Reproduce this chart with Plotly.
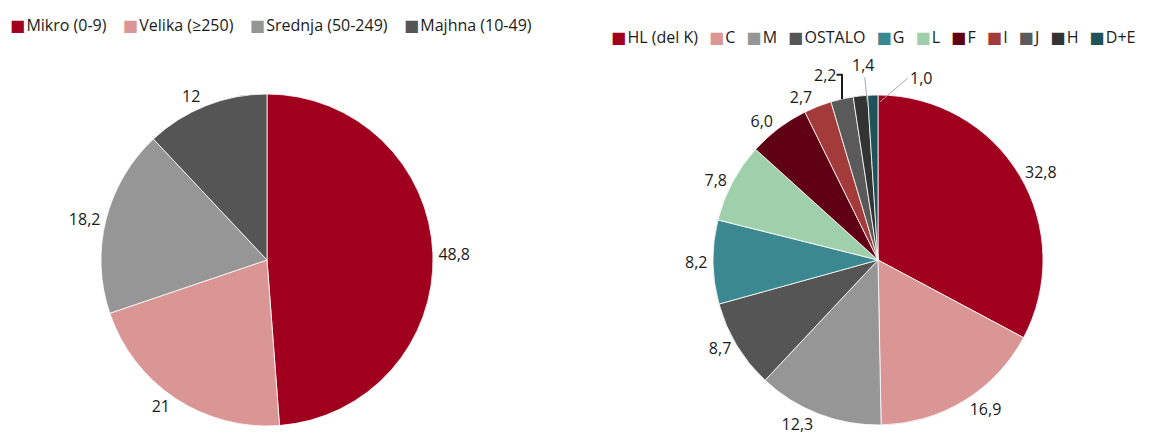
import math
import plotly.graph_objects as go

size_labels = ["Mikro (0-9)", "Velika (≥250)", "Srednja (50-249)", "Majhna (10-49)"]
size_values = [48.8, 21, 18.2, 12]
size_colors = ["#A0001E", "#D99694", "#969696", "#555555"]

sector_labels = ["HL (del K)", "C", "M", "OSTALO", "G", "L", "F", "I", "J", "H", "D+E"]
sector_values = [32.8, 16.9, 12.3, 8.7, 8.2, 7.8, 6.0, 2.7, 2.2, 1.4, 1.0]
sector_colors = ["#A0001E", "#D99694", "#969696", "#555555", "#3B8890", "#A0CFAB",
                 "#600014", "#A33B3B", "#5A5A5A", "#333333", "#1F535A"]

W, H = 1150, 437
FONT = "Open Sans"
TXT = "#1a1a1a"

def dom(cx, cy, r):
    return dict(x=[(cx - r) / W, (cx + r) / W], y=[(H - cy - r) / H, (H - cy + r) / H])

L_CX, L_CY, L_R = 259, 252, 166
R_CX, R_CY, R_R = 870, 252, 165
# rendered pie centre (plotly shifts the drawn pie slightly relative to the domain)
R_DRAW_CX, R_DRAW_CY = 877, 259

fig = go.Figure()
fig.add_trace(go.Pie(
    labels=size_labels, values=size_values,
    text=[f"{v:g}".replace(".", ",") for v in size_values],
    textinfo="text", textposition="outside",
    sort=False, direction="clockwise", rotation=0,
    marker=dict(colors=size_colors, line=dict(color="white", width=0.8)),
    domain=dom(L_CX, L_CY, L_R),
    textfont=dict(size=16, color=TXT, family=FONT),
    showlegend=False, hoverinfo="label+value",
))

n_leader = 2  # the smallest slices get labels with leader lines
sector_text = [f"{v:.1f}".replace(".", ",") for v in sector_values]
sector_pos = ["outside"] * (len(sector_values) - n_leader) + ["none"] * n_leader
fig.add_trace(go.Pie(
    labels=sector_labels, values=sector_values,
    text=sector_text,
    textinfo="text", textposition=sector_pos,
    sort=False, direction="clockwise", rotation=0,
    marker=dict(colors=sector_colors, line=dict(color="white", width=0.8)),
    domain=dom(R_CX, R_CY, R_R),
    textfont=dict(size=16, color=TXT, family=FONT),
    showlegend=False, hoverinfo="label+value",
))

total = sum(sector_values)
leader_style = {  # index -> (ax, ay, xanchor)
    len(sector_values) - 2: (-4, -38, "center"),
    len(sector_values) - 1: (28, -24, "left"),
}
cum = 0.0
for i, v in enumerate(sector_values):
    if i in leader_style:
        mid = (cum + v / 2) / total * 2 * math.pi
        tx = R_DRAW_CX + R_R * math.sin(mid)
        ty = R_DRAW_CY - R_R * math.cos(mid)
        ax, ay, xa = leader_style[i]
        fig.add_annotation(
            x=tx / W, y=1 - ty / H, xref="paper", yref="paper",
            text=sector_text[i], showarrow=True, arrowhead=0, arrowwidth=1,
            arrowcolor="#a6a6a6", ax=ax, ay=ay, xanchor=xa,
            font=dict(size=16, color=TXT, family=FONT),
        )
    cum += v

def legend_text(labels, colors, gap_px):
    parts = []
    for lab, col in zip(labels, colors):
        parts.append(
            f"<span style='font-family:DejaVu Sans;color:{col}'>■</span>"
            f"<span style='font-size:5px'>\u00a0</span>{lab}"
        )
    sep = f"<span style='font-size:{gap_px}px'>\u00a0\u00a0\u00a0</span>"
    return sep.join(parts)

fig.add_annotation(
    text=legend_text(size_labels, size_colors, 21),
    xref="paper", yref="paper", x=0, y=1 - 15 / H,
    xanchor="left", yanchor="middle", showarrow=False,
    font=dict(size=16, color=TXT, family=FONT),
)
fig.add_annotation(
    text=legend_text(sector_labels, sector_colors, 14),
    xref="paper", yref="paper", x=601 / W, y=1 - 29 / H,
    xanchor="left", yanchor="middle", showarrow=False,
    font=dict(size=16, color=TXT, family=FONT),
)

fig.update_layout(
    width=W, height=H,
    margin=dict(l=0, r=0, t=0, b=0),
    paper_bgcolor="white", plot_bgcolor="white",
    font=dict(family=FONT),
    showlegend=False,
)
fig.write_html("out.html")
